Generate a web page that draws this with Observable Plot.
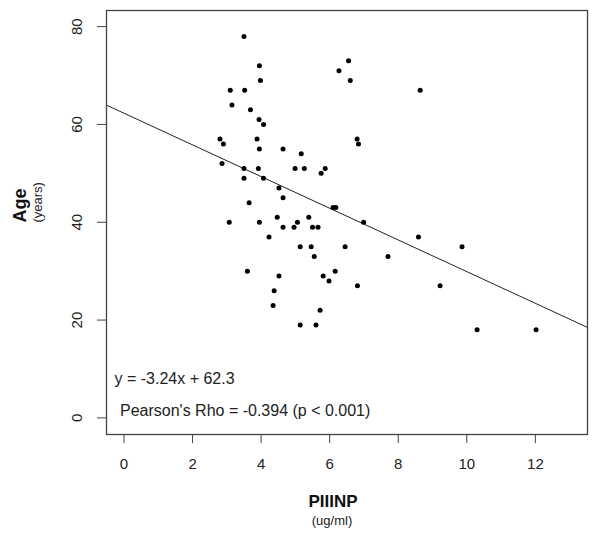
<!DOCTYPE html>
<html><head><meta charset="utf-8">
<script src="https://cdn.jsdelivr.net/npm/d3@7"></script>
<script src="https://cdn.jsdelivr.net/npm/@observablehq/plot@0.6"></script>
<style>body{margin:0;background:#fff}</style>
</head><body><div id="chart"></div>
<script>
const piiinp = [3.50,3.95,3.98,3.10,3.52,3.15,3.69,3.94,4.07,2.80,
  2.90,3.88,3.95,4.64,5.17,2.86,3.50,3.92,4.99,5.26,
  3.50,4.07,4.52,4.64,3.65,3.07,3.95,4.47,4.64,4.96,
  5.06,5.39,4.23,5.14,5.46,3.60,4.52,4.38,4.35,5.14,
  6.55,6.27,6.60,8.64,6.80,6.84,5.75,5.87,6.10,6.18,
  6.99,5.50,5.66,8.59,9.86,6.45,5.55,7.70,5.81,5.98,
  6.16,6.81,9.22,5.72,5.60,10.30,12.02];
const age = [78,72,69,67,67,64,63,61,60,57,
  56,57,55,55,54,52,51,51,51,51,
  49,49,47,45,44,40,40,41,39,39,
  40,41,37,35,35,30,29,26,23,19,
  73,71,69,67,57,56,50,51,43,43,
  40,39,39,37,35,35,33,33,29,28,
  30,27,27,22,19,18,18];
const xTicks = [0,2,4,6,8,10,12];
const yTicks = [0,20,40,60,80];
const slope = -3.24, intercept = 62.3;
const eqLabel = ["y = -3.24x + 62.3"];
const rhoLabel = ["Pearson's Rho = -0.394 (p < 0.001)"];
const xTitle = ["PIIINP"], xUnit = ["(ug/ml)"];
const yTitle = ["Age"], yUnit = ["(years)"];
const xDomain = [-0.51, 13.52];
const yDomain = [-3.4, 83.3];

const points = piiinp.map((x, i) => ({x, y: age[i]}));
const fitLine = xDomain.map(x => ({x, y: slope * x + intercept}));
const font = "'Liberation Sans', Arial, sans-serif";
const ink = "#222";

const chart = Plot.plot({
  width: 600, height: 537,
  marginLeft: 106, marginRight: 13, marginTop: 10, marginBottom: 103,
  x: {domain: xDomain},
  y: {domain: yDomain},
  style: {fontFamily: font, background: "#fff", color: ink},
  marks: [
    Plot.line(fitLine, {x: "x", y: "y", stroke: "#222", strokeWidth: 1, clip: true}),
    Plot.dot(points, {x: "x", y: "y", r: 2.5, fill: "#000", stroke: null}),
    Plot.frame({stroke: "#444", strokeWidth: 1.3}),
    Plot.axisX(xTicks, {tickSize: 9, tickPadding: 15, fontSize: 15, stroke: "#444", fill: ink, label: null}),
    Plot.axisY(yTicks, {tickSize: 9, tickFormat: () => "", stroke: "#444", label: null}),
    Plot.text(yTicks, {y: d => d, text: d => String(d), frameAnchor: "left", dx: -29, rotate: -90,
      textAnchor: "middle", lineAnchor: "middle", fontSize: 15, fill: ink}),
    Plot.text(xTitle, {text: d => d, frameAnchor: "bottom", dx: -14, dy: 67, lineAnchor: "middle",
      fontSize: 17, fontWeight: "bold", fill: "#111"}),
    Plot.text(xUnit, {text: d => d, frameAnchor: "bottom", dx: -15, dy: 86, lineAnchor: "middle",
      fontSize: 13, fill: ink}),
    Plot.text(yTitle, {text: d => d, frameAnchor: "left", dx: -86, rotate: -90, lineAnchor: "middle",
      fontSize: 18, fontWeight: "bold", fill: "#111"}),
    Plot.text(yUnit, {text: d => d, frameAnchor: "left", dx: -69, rotate: -90, lineAnchor: "middle",
      fontSize: 13, fill: ink}),
    Plot.text(eqLabel, {text: d => d, frameAnchor: "bottom-left", dx: 8, dy: -56, textAnchor: "start",
      lineAnchor: "middle", fontSize: 16, fill: ink}),
    Plot.text(rhoLabel, {text: d => d, frameAnchor: "bottom-left", dx: 13.5, dy: -24, textAnchor: "start",
      lineAnchor: "middle", fontSize: 16, fill: ink})
  ]
});
document.getElementById("chart").appendChild(chart);
</script>
</body></html>
